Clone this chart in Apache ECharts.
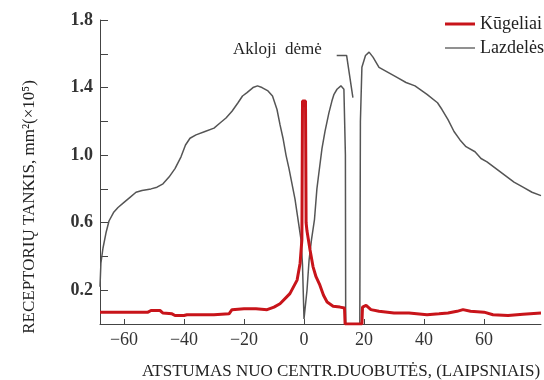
<!DOCTYPE html>
<html>
<head>
<meta charset="utf-8">
<script src="https://cdn.jsdelivr.net/npm/echarts@6/dist/echarts.min.js"></script>
<style>
  html, body { margin: 0; padding: 0; background: #fff; }
  #chart { width: 544px; height: 380px; }
</style>
</head>
<body>
<div id="chart"></div>
<script>
const xLabels = [-60, -40, -20, 0, 20, 40, 60];
const yLabels = [0.2, 0.6, 1.0, 1.4, 1.8];
const yTicks = [0.2, 0.4, 0.6, 0.8, 1.0, 1.2, 1.4, 1.6, 1.8];

// lazdelės (rods)
const rods = [
  [-68, 0.22], [-67.7, 0.36], [-67, 0.45], [-66, 0.54], [-65, 0.61], [-63.5, 0.66],
  [-62, 0.69], [-60, 0.72], [-58, 0.75], [-56, 0.78], [-54, 0.79], [-51, 0.80],
  [-49, 0.81], [-47, 0.83], [-45, 0.87], [-43, 0.92], [-41, 0.99], [-39.5, 1.06],
  [-38, 1.10], [-36, 1.12], [-33, 1.14], [-30, 1.16], [-28, 1.19], [-26, 1.22],
  [-24, 1.26], [-22, 1.31], [-20.5, 1.35], [-19, 1.37], [-17, 1.40], [-15.5, 1.41],
  [-14, 1.40], [-12, 1.38], [-10.5, 1.35], [-9, 1.27], [-8, 1.18], [-7, 1.10],
  [-6, 1.00], [-5, 0.92], [-4, 0.83], [-3, 0.74], [-2, 0.62], [-1, 0.50],
  [-0.5, 0.35], [0, 0.03], [0.5, 0.02], [1, 0.2], [1.7, 0.38], [2.5, 0.5],
  [3.5, 0.62], [4.3, 0.8], [5, 0.9], [6, 1.04], [7, 1.14], [8.3, 1.25],
  [9.3, 1.32], [10, 1.36], [11, 1.39], [12.3, 1.41], [13.3, 1.39], [13.8, 1.0],
  [13.9, 0], [18.6, 0], [18.8, 1.2], [19.3, 1.52], [20.5, 1.59], [21.7, 1.61],
  [23, 1.58], [25, 1.52], [28, 1.49], [31, 1.46], [34, 1.43], [37, 1.41],
  [41, 1.36], [44.5, 1.31], [46, 1.27], [48, 1.21], [50, 1.14], [52, 1.09],
  [54, 1.05], [57, 1.02], [59, 0.98], [61, 0.96], [64, 0.92], [67, 0.88],
  [70, 0.84], [73, 0.81], [76, 0.78], [79, 0.76]
];

// kūgeliai (cones)
const cones = [
  [-68, 0.07], [-60, 0.07], [-52, 0.07], [-51, 0.08], [-48, 0.08], [-47, 0.065],
  [-44, 0.06], [-43, 0.05], [-40, 0.05], [-39, 0.055], [-30, 0.055], [-25, 0.06],
  [-24, 0.085], [-20, 0.09], [-16, 0.09], [-12.3, 0.085], [-10, 0.10], [-8, 0.12],
  [-4.7, 0.18], [-2.3, 0.26], [-1.3, 0.36], [-0.7, 0.5], [-0.5, 1.32], [0.5, 1.32],
  [0.7, 0.6], [1, 0.55], [2, 0.44], [3, 0.34], [4, 0.28], [5.3, 0.23],
  [6.5, 0.17], [7.7, 0.13], [9.7, 0.105], [12, 0.10], [13.5, 0.095], [13.7, 0],
  [19.3, 0], [19.5, 0.10], [20.7, 0.11], [22.3, 0.085], [25, 0.075], [30, 0.065],
  [35, 0.065], [41, 0.055], [45, 0.06], [48, 0.065], [51, 0.075], [53, 0.085],
  [55.5, 0.075], [60, 0.07], [63, 0.055], [68, 0.05], [73, 0.058], [79, 0.065]
];

// rodyklė į akląją dėmę
const blindSpotPointer = [[10.9, 1.59], [14.2, 1.59], [16.3, 1.34]];

const serif = 'Liberation Serif';
const chart = echarts.init(document.getElementById('chart'));

chart.setOption({
  animation: false,
  grid: { left: 100, right: 3, top: 20, bottom: 56 },
  legend: {
    orient: 'vertical',
    left: 440,
    top: 10,
    itemWidth: 30,
    itemHeight: 14,
    itemGap: 6,
    textStyle: { fontFamily: serif, fontSize: 18, color: '#222' },
    data: [
      { name: 'Kūgeliai', icon: 'path://M0,0H30V3H0Z' },
      { name: 'Lazdelės', icon: 'path://M0,0H30V1.3H0Z' }
    ]
  },
  xAxis: {
    type: 'value',
    min: -68,
    max: 79,
    splitLine: { show: false },
    axisLine: { onZero: false, lineStyle: { color: '#444', width: 1 } },
    axisTick: { inside: true, length: 5, customValues: xLabels, lineStyle: { color: '#444' } },
    axisLabel: {
      customValues: xLabels,
      margin: 7,
      fontFamily: serif,
      fontSize: 18,
      color: '#333',
      formatter: v => (v < 0 ? '\u2212' + Math.abs(v) : String(v))
    }
  },
  yAxis: {
    type: 'value',
    min: 0,
    max: 1.8,
    splitLine: { show: false },
    axisLine: { show: true, onZero: false, lineStyle: { color: '#444', width: 1 } },
    axisTick: { show: true, inside: true, length: 8, customValues: yTicks, lineStyle: { color: '#444' } },
    axisLabel: {
      customValues: yLabels,
      margin: 7,
      fontFamily: serif,
      fontSize: 18,
      fontWeight: 'bold',
      color: '#333',
      formatter: v => v.toFixed(1)
    }
  },
  graphic: [
    {
      type: 'text',
      x: 30,
      y: 207,
      rotation: Math.PI / 2,
      style: {
        text: 'RECEPTORIŲ TANKIS, mm²(×10⁵)',
        font: '17px "Liberation Serif"',
        fill: '#222',
        textAlign: 'center',
        textVerticalAlign: 'middle'
      }
    },
    {
      type: 'text',
      x: 341,
      y: 372,
      style: {
        text: 'ATSTUMAS NUO CENTR.DUOBUTĖS, (LAIPSNIAIS)',
        font: '17px "Liberation Serif"',
        fill: '#222',
        textAlign: 'center',
        textVerticalAlign: 'middle'
      }
    },
    {
      type: 'text',
      x: 233,
      y: 50,
      style: {
        text: 'Akloji  dėmė',
        font: '17px "Liberation Serif"',
        fill: '#222',
        textAlign: 'left',
        textVerticalAlign: 'middle'
      }
    }
  ],
  series: [
    {
      name: 'Kūgeliai',
      type: 'line',
      data: cones,
      symbol: 'none',
      z: 3,
      lineStyle: { color: '#c8141a', width: 3 },
      itemStyle: { color: '#c8141a' }
    },
    {
      name: 'Lazdelės',
      type: 'line',
      data: rods,
      symbol: 'none',
      z: 2,
      lineStyle: { color: '#555', width: 1.5 },
      itemStyle: { color: '#555' }
    },
    {
      name: 'pointer',
      type: 'line',
      data: blindSpotPointer,
      symbol: 'none',
      silent: true,
      lineStyle: { color: '#555', width: 1.5 }
    }
  ]
});
</script>
</body>
</html>
